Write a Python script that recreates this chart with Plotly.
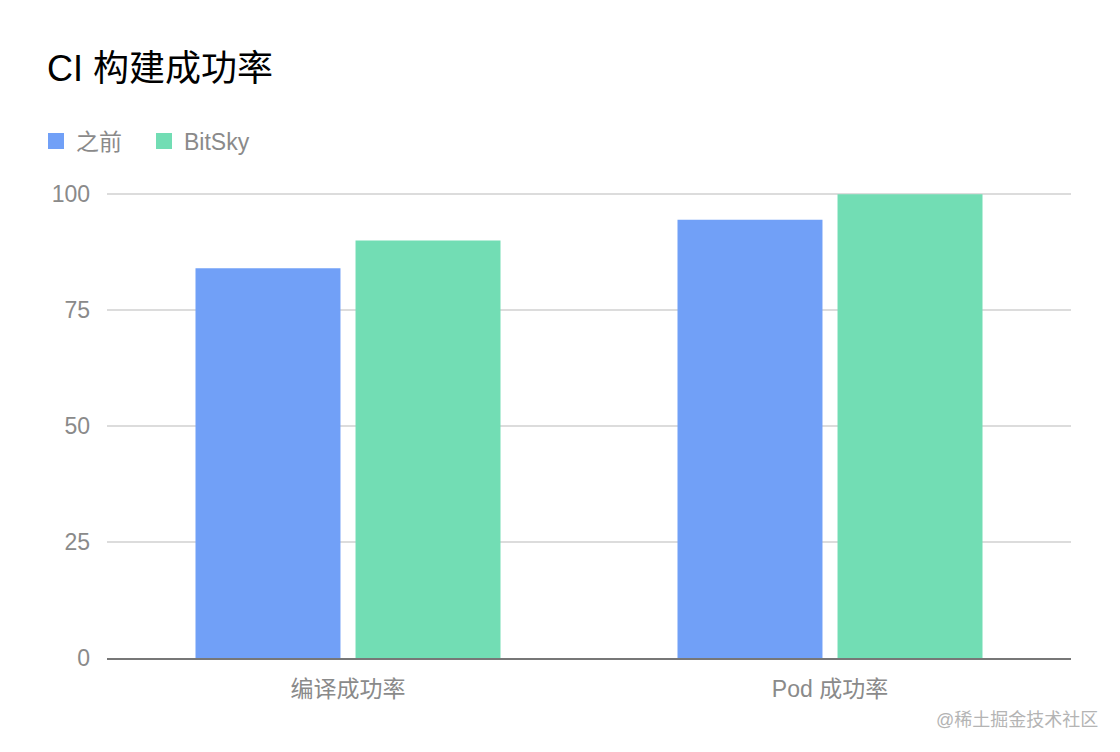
import plotly.graph_objects as go

categories = ["编译成功率", "Pod 成功率"]
series_names = ["之前", "BitSky"]
before_vals = [84, 94.5]
bitsky_vals = [90, 100]
y_ticks = [0, 25, 50, 75, 100]

colors = ["#71a0f7", "#72ddb4"]
FONT = "Helvetica, Arial, 'Liberation Sans', 'Noto Sans CJK SC', sans-serif"

# page body has an 8px default margin, so the figure is sized/positioned to compensate
OFF = 8
W, H = 1120 - OFF, 752 - OFF

fig = go.Figure()
for name, vals, c in zip(series_names, [before_vals, bitsky_vals], colors):
    fig.add_trace(go.Bar(x=categories, y=vals, name=name, marker=dict(color=c, line=dict(width=0)),
                         showlegend=False, hoverinfo="x+y+name"))
# legend entries with larger square swatches
for name, c in zip(series_names, colors):
    fig.add_trace(go.Scatter(x=[None], y=[None], mode="markers", name=name,
                             marker=dict(symbol="square", size=16, color=c), showlegend=True))

fig.update_layout(
    width=W, height=H,
    barmode="group", bargap=0.336, bargroupgap=0.094,
    paper_bgcolor="white", plot_bgcolor="white",
    font=dict(family=FONT, color="#8a8a8a", size=23),
    margin=dict(l=107 - OFF, r=49, t=193 - OFF, b=94),
    title=dict(text="CI 构建成功率", font=dict(family=FONT, size=36, color="#000000"),
               xref="container", yref="container", x=(47 - OFF) / W, xanchor="left",
               y=1 - (68 - OFF) / H, yanchor="middle"),
    showlegend=True,
    legend=dict(orientation="h", xref="container", yref="container",
                x=(36 - OFF) / W, xanchor="left", y=1 - (141 - OFF) / H, yanchor="middle",
                font=dict(size=23, color="#8a8a8a"), entrywidth=63, traceorder="normal",
                bgcolor="rgba(0,0,0,0)"),
    xaxis=dict(showgrid=False, showline=True, linecolor="#777777", linewidth=1.5,
               ticks="", tickfont=dict(size=23, color="#8a8a8a"), ticklabelstandoff=10,
               zeroline=False),
    yaxis=dict(range=[0, 100.25], tickvals=y_ticks, showgrid=True, gridcolor="#dcdcdc",
               gridwidth=1.5, zeroline=False, showline=False, ticks="",
               tickfont=dict(size=23, color="#8a8a8a"), ticklabelstandoff=16),
    annotations=[dict(text="@稀土掘金技术社区", xref="paper", yref="paper", showarrow=False,
                      x=1, xanchor="right", y=0, yanchor="middle", yshift=-62, xshift=29,
                      font=dict(size=18, color="#b4b4b4", family=FONT))],
)

fig.write_html("out.html")
